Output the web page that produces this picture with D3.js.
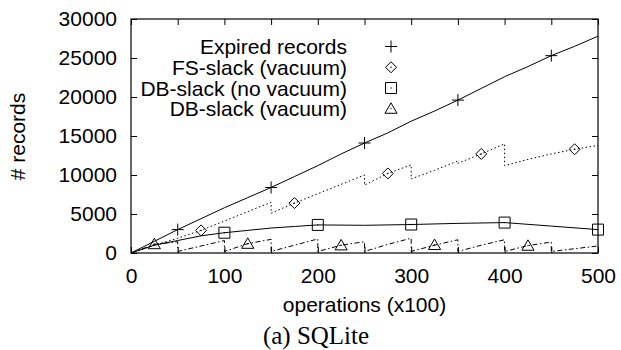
<!DOCTYPE html>
<html>
<head>
<meta charset="utf-8">
<script src="https://cdn.jsdelivr.net/npm/d3@7"></script>
<style>
  body { margin: 0; background: #fff; }
  svg text { font-family: "Liberation Sans", Arial, sans-serif; fill: #000; }
</style>
</head>
<body>
<svg id="chart" width="621" height="350"></svg>
<script>
// series (x in units of 100 operations, y in records)
const expiredX = [0, 25, 50, 75, 100, 125, 150, 175, 200, 225, 250, 275, 300, 325, 350, 375, 400, 425, 450, 475, 500];
const expiredY = [0, 1500, 3000, 4400, 5800, 7100, 8400, 9800, 11200, 12700, 14100, 15400, 16900, 18200, 19600, 21100, 22600, 23900, 25300, 26500, 27800];

const fsX = [0, 25, 50, 75, 100, 125, 150, 150, 175, 200, 225, 250, 250, 275, 300, 300, 325, 350, 350, 375, 400, 400, 425, 450, 475, 500];
const fsY = [0, 1000, 1900, 2900, 4100, 5300, 6500, 5100, 6400, 7600, 8800, 10000, 8700, 10200, 11300, 9500, 10600, 11800, 11500, 12700, 14000, 11200, 12000, 12700, 13300, 13800];

const dbNoVacX = [0, 25, 50, 75, 100, 125, 150, 175, 200, 250, 300, 350, 400, 450, 500];
const dbNoVacY = [0, 1000, 1600, 2200, 2600, 2900, 3200, 3400, 3600, 3550, 3650, 3800, 3900, 3450, 3000];

const dbVacX = [0, 25, 50, 50, 75, 100, 100, 125, 150, 150, 175, 200, 200, 225, 250, 250, 275, 300, 300, 325, 350, 350, 375, 400, 400, 425, 450, 450, 475, 500];
const dbVacY = [0, 1100, 1450, 200, 900, 1600, 200, 1200, 1750, 200, 1000, 1800, 200, 1000, 1450, 200, 1100, 1900, 200, 1000, 1700, 200, 1000, 1700, 200, 950, 1400, 200, 550, 900];

// point markers
const expiredMarkX = [50, 150, 250, 350, 450];
const expiredMarkY = [3000, 8400, 14100, 19600, 25300];
const fsMarkX = [75, 175, 275, 375, 475];
const fsMarkY = [2900, 6400, 10200, 12700, 13300];
const dbNoVacMarkX = [100, 200, 300, 400, 500];
const dbNoVacMarkY = [2600, 3600, 3650, 3900, 3000];
const dbVacMarkX = [25, 125, 225, 325, 425];
const dbVacMarkY = [1150, 1200, 1000, 1050, 950];

const legendLabels = ["Expired records", "FS-slack (vacuum)", "DB-slack (no vacuum)", "DB-slack (vacuum)"];
const xTicks = [0, 50, 100, 150, 200, 250, 300, 350, 400, 450, 500];
const yTicks = [0, 5000, 10000, 15000, 20000, 25000, 30000];

const svg = d3.select("#chart");
const plotLeft = 131, plotRight = 598, plotTop = 19, plotBottom = 253;

const x = d3.scaleLinear().domain([0, 500]).range([plotLeft, plotRight]);
const y = d3.scaleLinear().domain([0, 30000]).range([plotBottom, plotTop]);

svg.append("rect").attr("width", 621).attr("height", 350).attr("fill", "#fff");

// axes, ticks pointing inward like gnuplot
const xLabel = d => (d % 100 === 0 ? d : "");
svg.append("g")
  .attr("transform", `translate(0,${plotBottom})`)
  .call(d3.axisBottom(x).tickValues(xTicks).tickSize(-6).tickSizeOuter(0).tickPadding(15).tickFormat(xLabel));
svg.append("g")
  .attr("transform", `translate(0,${plotTop})`)
  .call(d3.axisTop(x).tickValues(xTicks).tickSize(-6).tickSizeOuter(0).tickFormat(""));
svg.append("g")
  .attr("transform", `translate(${plotLeft},0)`)
  .call(d3.axisLeft(y).tickValues(yTicks).tickSize(-6).tickSizeOuter(0).tickPadding(14).tickFormat(d3.format("d")));
svg.append("g")
  .attr("transform", `translate(${plotRight},0)`)
  .call(d3.axisRight(y).tickValues(yTicks).tickSize(-6).tickSizeOuter(0).tickFormat(""));

svg.selectAll(".domain").remove();
svg.selectAll(".tick line").attr("stroke", "#000").attr("stroke-width", 1);
svg.selectAll(".tick text").attr("font-size", 21).attr("font-family", "Liberation Sans, Arial, sans-serif");

svg.append("rect")
  .attr("x", plotLeft).attr("y", plotTop)
  .attr("width", plotRight - plotLeft).attr("height", plotBottom - plotTop)
  .attr("fill", "none").attr("stroke", "#000").attr("stroke-width", 1.2);

// lines
const line = d3.line().x(d => x(d[0])).y(d => y(d[1]));
const series = [
  { xs: expiredX, ys: expiredY, dash: null },
  { xs: fsX, ys: fsY, dash: "1.5,2.5" },
  { xs: dbNoVacX, ys: dbNoVacY, dash: null },
  { xs: dbVacX, ys: dbVacY, dash: "5,2.5,1.5,2.5" }
];
series.forEach(s => {
  svg.append("path")
    .datum(d3.zip(s.xs, s.ys))
    .attr("d", line)
    .attr("fill", "none")
    .attr("stroke", "#000")
    .attr("stroke-width", 1)
    .attr("stroke-dasharray", s.dash);
});

// marker shapes
const markerPath = {
  plus: r => `M${-r},0H${r}M0,${-r}V${r}`,
  diamond: r => `M0,${-r}L${r},0L0,${r}L${-r},0Z`,
  square: r => `M${-r},${-r}H${r}V${r}H${-r}Z`,
  triangle: r => `M0,${-r * 1.05}L${r * 1.1},${r * 0.85}L${-r * 1.1},${r * 0.85}Z`
};
const markerKinds = ["plus", "diamond", "square", "triangle"];
const marks = [
  d3.zip(expiredMarkX, expiredMarkY),
  d3.zip(fsMarkX, fsMarkY),
  d3.zip(dbNoVacMarkX, dbNoVacMarkY),
  d3.zip(dbVacMarkX, dbVacMarkY)
];

function drawMarker(g, kind) {
  g.append("path")
    .attr("d", markerPath[kind](kind === "plus" ? 6 : 5.5))
    .attr("fill", "none")
    .attr("stroke", "#000")
    .attr("stroke-width", 1);
  if (kind !== "plus") {
    g.append("circle").attr("r", 0.7).attr("fill", "#000");
  }
}

marks.forEach((pts, i) => {
  pts.forEach(p => {
    const g = svg.append("g").attr("transform", `translate(${x(p[0])},${y(p[1])})`);
    drawMarker(g, markerKinds[i]);
  });
});

// legend
const legendRowY = [46.5, 67.3, 88, 108.6];
legendLabels.forEach((label, i) => {
  svg.append("text")
    .attr("x", 347).attr("y", legendRowY[i] + 7.5)
    .attr("text-anchor", "end")
    .attr("font-size", 21)
    .text(label);
  const g = svg.append("g").attr("transform", `translate(391,${legendRowY[i]})`);
  drawMarker(g, markerKinds[i]);
});

// axis titles
svg.append("text")
  .attr("x", (plotLeft + plotRight) / 2).attr("y", 312)
  .attr("text-anchor", "middle")
  .attr("font-size", 21)
  .text("operations (x100)");

svg.append("text")
  .attr("transform", "translate(25,136.5) rotate(-90)")
  .attr("text-anchor", "middle")
  .attr("font-size", 21)
  .text("# records");

svg.append("text")
  .attr("x", 316).attr("y", 344)
  .attr("text-anchor", "middle")
  .attr("font-size", 25)
  .style("font-family", "'Liberation Serif', 'DejaVu Serif', serif")
  .text("(a) SQLite");
</script>
</body>
</html>
